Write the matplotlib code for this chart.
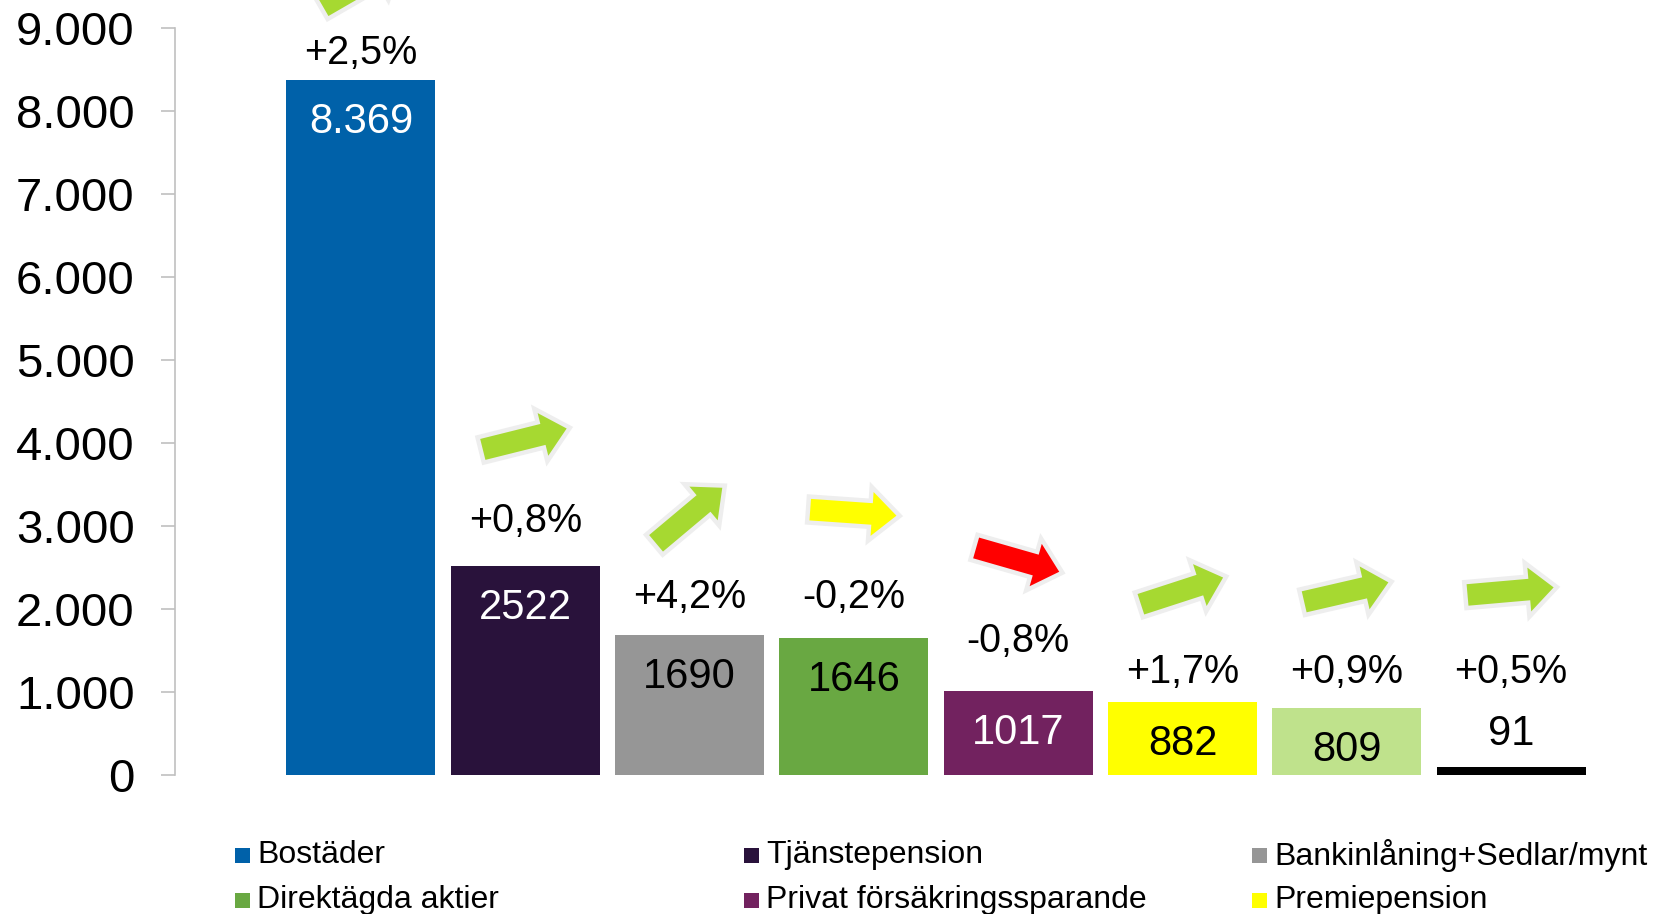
import numpy as np
import matplotlib.pyplot as plt
from matplotlib.patches import FancyArrow, Rectangle
from matplotlib.transforms import IdentityTransform
from matplotlib.ticker import FuncFormatter

plt.rcParams['font.family'] = ['Liberation Sans', 'DejaVu Sans']

# data
names = ['Bostäder', 'Tjänstepension', 'Bankinlåning+Sedlar/mynt', 'Direktägda aktier',
         'Privat försäkringssparande', 'Premiepension', 'Fonder', 'Räntebärande värdepapper']
values = [8369, 2522, 1690, 1646, 1017, 882, 809, 91]
value_text = ['8.369', '2522', '1690', '1646', '1017', '882', '809', '91']
changes = ['+2,5%', '+0,8%', '+4,2%', '-0,2%', '-0,8%', '+1,7%', '+0,9%', '+0,5%']

# styling / placement
colors = ['#0061A9', '#29123B', '#969696', '#69A842', '#72225F', '#FFFF00', '#BFE28C', '#000000']
text_colors = ['white', 'white', 'black', 'black', 'white', 'black', 'black', 'black']
pct_y = [8700, 3060, 2150, 2150, 1615, 1235, 1235, 1235]       # label centres (data units)
arrow_y = [9520, 4050, 3130, 3160, 2590, 2220, 2205, 2215]     # arrow midpoints (data units)
arrow_ang = [30, 14, 40, -4, -16, 18, 13, 5]                   # degrees
arrow_col = ['#A6D931', '#A6D931', '#A6D931', '#FFFF00', '#FF0000', '#A6D931', '#A6D931', '#A6D931']

fig = plt.figure(figsize=(16.6, 9.14), dpi=100)
ax = fig.add_axes([0.1054, 0.1521, 0.8946, 0.8173])

x = np.arange(len(values))
bars = ax.bar(x, values, width=0.907, color=colors)

ax.set_xlim(-1.132, 7.906)
ax.set_ylim(0, 9000)
ax.set_yticks(np.arange(0, 9001, 1000))
ax.yaxis.set_major_formatter(FuncFormatter(lambda v, p: f'{int(v):,}'.replace(',', '.')))
ax.set_xticks([])
for s in ['top', 'right', 'bottom']:
    ax.spines[s].set_visible(False)
ax.spines['left'].set_color('#C0C0C0')
ax.spines['left'].set_linewidth(1.2)
ax.tick_params(axis='y', direction='out', length=10, width=1.2, color='#C0C0C0',
               labelsize=34, pad=19)

# value labels
for i, v in enumerate(values):
    if v > 300:
        off = -42
    else:
        off = 33
    ax.annotate(value_text[i], (i, v), xytext=(0, off), textcoords='offset pixels',
                ha='center', va='center', fontsize=30, color=text_colors[i])
    ax.text(i, pct_y[i], changes[i], ha='center', va='center', fontsize=28.5, color='black')

# block arrows
L = 92
for i in range(len(values)):
    mx, my = ax.transData.transform((i, arrow_y[i]))
    a = np.radians(arrow_ang[i])
    dx, dy = L * np.cos(a), L * np.sin(a)
    arr = FancyArrow(mx - dx / 2, my - dy / 2, dx, dy, width=26, head_width=54,
                     head_length=30, length_includes_head=True,
                     transform=IdentityTransform(), fc=arrow_col[i], ec='#EEEEEE',
                     lw=3.2, joinstyle='miter', clip_on=False)
    fig.add_artist(arr)

# legend (first six entries visible)
W, H = 1660, 914
col_x = [235, 744, 1252]
row_y = [855, 900]
for k in range(6):
    cx = col_x[k % 3]
    cy = row_y[k // 3]
    fig.add_artist(Rectangle((cx / W, (H - cy - 7.5) / H), 15 / W, 15 / H,
                             transform=fig.transFigure, color=colors[k], lw=0))
    fig.text((cx + 22) / W, (H - cy) / H, names[k], ha='left', va='center',
             fontsize=23, color='black')

plt.savefig('out.png', dpi=100)
